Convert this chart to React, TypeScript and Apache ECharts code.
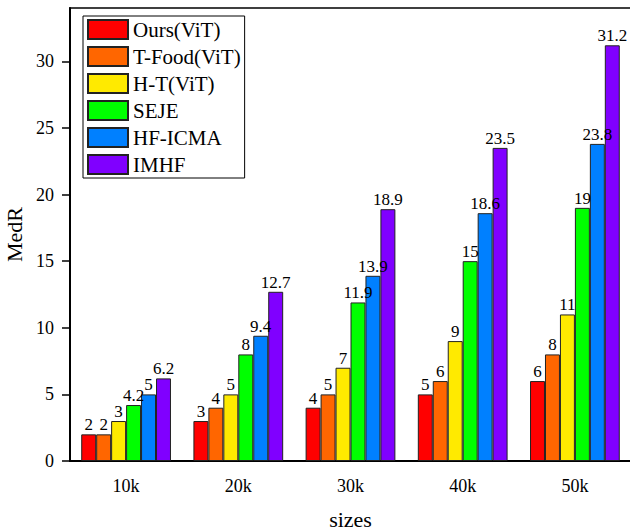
import React, { useEffect, useRef } from "react";
import * as echarts from "echarts";

const categories = ["10k", "20k", "30k", "40k", "50k"];
const seriesNames = ["Ours(ViT)", "T-Food(ViT)", "H-T(ViT)", "SEJE", "HF-ICMA", "IMHF"];
const oursVit = [2, 3, 4, 5, 6];
const tFoodVit = [2, 4, 5, 6, 8];
const htVit = [3, 5, 7, 9, 11];
const seje = [4.2, 8, 11.9, 15, 19];
const hfIcma = [5, 9.4, 13.9, 18.6, 23.8];
const imhf = [6.2, 12.7, 18.9, 23.5, 31.2];
const yTicks = [0, 5, 10, 15, 20, 25, 30];
const colors = ["#FF0000", "#FF6600", "#FFEA00", "#00FF00", "#0080FF", "#8000FF"];

const FONT = "'Liberation Serif', 'Times New Roman', serif";

export default function App() {
  const ref = useRef<HTMLDivElement>(null);
  useEffect(() => {
    if (!ref.current) return;
    const chart = echarts.init(ref.current, null, { renderer: "svg" });
    const values = [oursVit, tFoodVit, htVit, seje, hfIcma, imhf];
    chart.setOption({
      animation: false,
      backgroundColor: "#fff",
      textStyle: { fontFamily: FONT },
      grid: {
        left: 70,
        top: 8,
        width: 561,
        height: 453,
        show: true,
        borderColor: "#000",
        borderWidth: 1.5,
        outerBoundsMode: "none",
        containLabel: false,
      },
      legend: {
        orient: "vertical",
        left: 83,
        top: 16,
        padding: [3, 4, 3, 4],
        borderColor: "#000",
        borderWidth: 1,
        itemWidth: 40,
        itemHeight: 19,
        itemGap: 6,
        icon: "rect",
        data: seriesNames,
        textStyle: { fontFamily: FONT, fontSize: 21, color: "#000", lineHeight: 21 },
      },
      xAxis: {
        type: "category",
        data: categories,
        name: "sizes",
        nameLocation: "middle",
        nameGap: 47,
        nameTextStyle: { fontFamily: FONT, fontSize: 22, color: "#000" },
        axisLine: { lineStyle: { color: "#000", width: 2 } },
        axisTick: { alignWithLabel: true, length: 8, lineStyle: { color: "#000", width: 1.5 } },
        axisLabel: { fontFamily: FONT, fontSize: 18, color: "#000", margin: 16 },
      },
      yAxis: {
        type: "value",
        min: 0,
        max: 34,
        interval: 5,
        name: "MedR",
        nameLocation: "middle",
        nameGap: 37,
        nameTextStyle: { fontFamily: FONT, fontSize: 22, color: "#000" },
        splitLine: { show: false },
        axisLine: { show: true, lineStyle: { color: "#000", width: 2 } },
        axisTick: { show: true, length: 8, customValues: yTicks, lineStyle: { color: "#000", width: 1.5 } },
        axisLabel: { fontFamily: FONT, fontSize: 18, color: "#000", margin: 16, customValues: yTicks },
      },
      series: seriesNames.map((name, i) => ({
        name,
        type: "bar",
        data: values[i],
        barGap: "0%",
        barCategoryGap: "20%",
        itemStyle: { color: colors[i], borderColor: "#222", borderWidth: 1 },
        label: {
          show: true,
          position: "top",
          distance: 1,
          fontFamily: FONT,
          fontSize: 17,
          color: "#000",
        },
      })),
    });
    return () => chart.dispose();
  }, []);
  return (
    <div
      ref={ref}
      style={{ position: "fixed", left: 0, top: 0, width: 630, height: 530 }}
    />
  );
}
